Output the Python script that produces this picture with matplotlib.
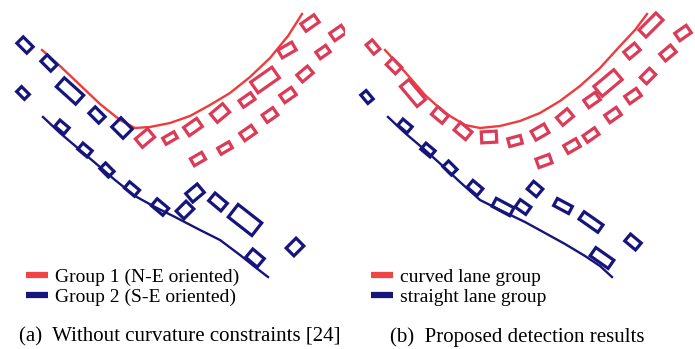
import matplotlib.pyplot as plt
from matplotlib.patches import Rectangle
from matplotlib.lines import Line2D

plt.rcParams["font.family"] = ["Liberation Serif", "DejaVu Serif"]

RED_BOX = "#dc3b58"
RED_LINE = "#ee3b3b"
RED_KEY = "#f04444"
NAVY = "#15157c"

# vehicle boxes: centre x, centre y, length, width, heading (deg, image coords)
a_blue = [
    (25, 45, 14, 9, 45), (49, 63, 14, 9, 45), (70, 91, 26, 12, 42),
    (97, 115, 14, 9, 45), (122, 128, 16, 13, 45), (23, 93, 11, 7, 45),
    (62, 127, 12, 8, 40), (85, 150, 12, 8, 40), (107, 170, 12, 8, 45),
    (132, 189, 13, 8, 40), (160, 207, 15, 9, 40), (185, 210, 14, 11, -45),
    (195, 193, 15, 11, -40), (218, 202, 16, 10, 40), (245, 220, 30, 16, 38),
    (255, 258, 15, 11, 40), (295, 247, 14, 11, -45),
]
a_red = [
    (145, 138, 16, 11, -40), (170, 138, 13, 7, -30), (193, 127, 16, 10, -35),
    (220, 113, 16, 11, -40), (247, 100, 14, 8, -35), (265, 80, 26, 13, -35),
    (287, 50, 16, 9, -30), (310, 23, 16, 9, -35), (338, 33, 14, 9, -35),
    (198, 159, 13, 8, -30), (225, 148, 13, 7, -30), (248, 133, 14, 9, -35),
    (270, 115, 13, 9, -35), (288, 95, 14, 9, -35), (305, 74, 14, 9, -40),
    (323, 52, 12, 8, -35),
]
b_red = [
    (373, 47, 12, 8, 50), (394, 66, 13, 9, 45), (413, 93, 26, 11, 50),
    (440, 115, 14, 10, 40), (463, 131, 15, 10, 40), (489, 137, 15, 11, -3),
    (515, 141, 13, 8, -15), (540, 132, 15, 10, -30), (565, 117, 14, 10, -40),
    (592, 100, 14, 9, -35), (608, 83, 26, 13, -40), (632, 51, 14, 9, -40),
    (651, 25, 24, 10, -45), (683, 33, 14, 9, -35), (544, 161, 14, 9, -20),
    (572, 146, 14, 9, -30), (591, 135, 14, 8, -35), (613, 115, 14, 9, -35),
    (633, 96, 14, 9, -35), (648, 76, 13, 9, -45), (668, 53, 14, 9, -40),
]
b_blue = [
    (367, 97, 11, 7, 50), (405, 126, 12, 8, 40), (428, 150, 12, 8, 40),
    (450, 168, 12, 8, 45), (475, 188, 13, 9, 40), (503, 207, 20, 9, 28),
    (523, 207, 13, 9, 35), (535, 189, 12, 10, 40), (563, 206, 17, 8, 28),
    (591, 222, 23, 9, 35), (602, 258, 22, 10, 35), (633, 242, 14, 9, 40),
]

# fitted lane lines
a_curve_x = [42, 60, 80, 100, 120, 135, 150, 170, 190, 210, 230, 250, 270, 288, 302]
a_curve_y = [50, 66, 85, 104, 120, 128, 127, 123, 116, 105, 93, 77, 58, 36, 14]
a_straight_x = [43, 60, 80, 100, 115, 135, 155, 175, 200, 220, 240, 255, 268]
a_straight_y = [117, 133, 150, 167, 180, 196, 207, 217, 230, 240, 255, 267, 277]
b_curve_x = [385, 405, 425, 445, 465, 480, 500, 520, 540, 560, 580, 600, 620, 635, 647]
b_curve_y = [50, 72, 95, 113, 125, 128, 126, 121, 113, 101, 86, 68, 46, 30, 14]
b_straight_x = [388, 405, 425, 445, 460, 480, 500, 525, 545, 565, 585, 600, 612]
b_straight_y = [117, 133, 150, 168, 182, 200, 210, 222, 233, 244, 256, 266, 277]

a_labels = ["Group 1 (N-E oriented)", "Group 2 (S-E oriented)"]
b_labels = ["curved lane group", "straight lane group"]
captions = ["(a)  Without curvature constraints [24]", "(b)  Proposed detection results"]


def draw_boxes(ax, boxes, color):
    for cx, cy, L, W, ang in boxes:
        ax.add_patch(Rectangle((cx - L / 2, cy - W / 2), L, W, angle=ang,
                               rotation_point="center", fill=False,
                               edgecolor=color, lw=2.3, zorder=3))


fig = plt.figure(figsize=(6.95, 3.49), dpi=100)
ax1 = fig.add_axes([0, 0, 345 / 695, 1])
ax2 = fig.add_axes([345 / 695, 0, 350 / 695, 1])

panels = [
    (ax1, (0, 345), a_curve_x, a_curve_y, a_straight_x, a_straight_y, a_red, a_blue, a_labels),
    (ax2, (345, 695), b_curve_x, b_curve_y, b_straight_x, b_straight_y, b_red, b_blue, b_labels),
]

for ax, xl, cx, cy, sx, sy, reds, blues, labels in panels:
    ax.plot(cx, cy, color=RED_LINE, lw=1.7, zorder=2)
    ax.plot(sx, sy, color=NAVY, lw=1.7, zorder=2)
    draw_boxes(ax, reds, RED_BOX)
    draw_boxes(ax, blues, NAVY)
    ax.set_xlim(*xl)
    ax.set_ylim(349, 0)
    ax.axis("off")
    handles = [Line2D([], [], color=RED_KEY, lw=4.5, solid_capstyle="butt"),
               Line2D([], [], color=NAVY, lw=4.5, solid_capstyle="butt")]
    ax.legend(handles, labels, loc="upper left", bbox_to_anchor=(xl[0] + 26, 268),
              bbox_transform=ax.transData, frameon=False, fontsize=14,
              handlelength=1.15, handletextpad=0.35, labelspacing=0.13,
              borderpad=0, borderaxespad=0)

fig.text(180 / 695, 1 - 337 / 349, captions[0], ha="center", va="center", fontsize=15)
fig.text(517 / 695, 1 - 337 / 349, captions[1], ha="center", va="center", fontsize=15)

fig.savefig("out.png", dpi=100)
